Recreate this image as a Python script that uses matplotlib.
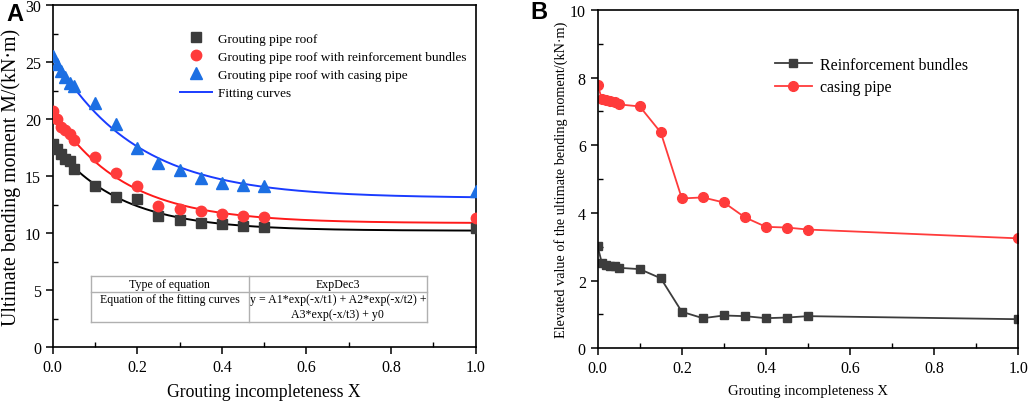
import numpy as np
import matplotlib
matplotlib.use("Agg")
import matplotlib.pyplot as plt
from matplotlib.ticker import MultipleLocator, FuncFormatter

plt.rcParams['font.family'] = ['Liberation Serif', 'DejaVu Serif']

# ---------------- data ----------------
x_vals = [0, 0.01, 0.02, 0.03, 0.04, 0.05, 0.1, 0.15, 0.2, 0.25, 0.3, 0.35, 0.4, 0.45, 0.5, 1.0]

roof = [17.8, 17.4, 16.9, 16.5, 16.3, 15.6, 14.15, 13.2, 13.0, 11.5, 11.1, 10.9, 10.75, 10.65, 10.5, 10.4]
roof_rb = [20.7, 20.0, 19.3, 19.0, 18.7, 18.2, 16.7, 15.3, 14.1, 12.4, 12.1, 11.9, 11.7, 11.5, 11.4, 11.3]
roof_cp = [25.5, 24.8, 24.2, 23.7, 23.2, 22.9, 21.4, 19.6, 17.5, 16.1, 15.5, 14.8, 14.4, 14.2, 14.1, 13.7]

elev_rb = [3.01, 2.52, 2.47, 2.44, 2.42, 2.38, 2.34, 2.07, 1.08, 0.89, 0.97, 0.95, 0.89, 0.91, 0.95, 0.86]
elev_cp = [7.78, 7.37, 7.33, 7.30, 7.27, 7.21, 7.15, 6.38, 4.43, 4.46, 4.31, 3.87, 3.59, 3.57, 3.51, 3.25]

labels_A = ["Grouting pipe roof",
            "Grouting pipe roof with reinforcement bundles",
            "Grouting pipe roof with casing pipe",
            "Fitting curves"]
labels_B = ["Reinforcement bundles", "casing pipe"]

# ---------------- fit (exponential decay, least squares) ----------------
def fit_expdec(x, y):
    x = np.asarray(x, float); y = np.asarray(y, float)
    best = None
    for t in np.linspace(0.02, 1.0, 981):
        M = np.column_stack([np.exp(-x / t), np.ones_like(x)])
        coef, res, *_ = np.linalg.lstsq(M, y, rcond=None)
        r = np.sum((M @ coef - y) ** 2)
        if best is None or r < best[0]:
            best = (r, t, coef)
    _, t, (A, y0) = best
    return lambda xx: A * np.exp(-xx / t) + y0

xx = np.linspace(0, 1, 300)

fig = plt.figure(figsize=(10.31, 4.02), dpi=100)
axA = fig.add_axes([0.0511, 0.1343, 0.4103, 0.8507])
axB = fig.add_axes([0.5797, 0.1311, 0.4081, 0.8415])

c_black = '#3c3c3c'
c_red = '#ff3b3b'
c_blue = '#1c6fe3'

# Panel A
axA.plot(x_vals, roof, 's', color=c_black, ms=6.5, label=labels_A[0], zorder=3)
axA.plot(x_vals, roof_rb, 'o', color=c_red, ms=7.5, label=labels_A[1], zorder=3)
axA.plot(x_vals, roof_cp, '^', color=c_blue, ms=8, label=labels_A[2], zorder=3)
axA.plot(xx, fit_expdec(x_vals, roof)(xx), '-', color='black', lw=1.4, zorder=2)
axA.plot(xx, fit_expdec(x_vals, roof_rb)(xx), '-', color='#ff1a1a', lw=1.4, zorder=2)
axA.plot(xx, fit_expdec(x_vals, roof_cp)(xx), '-', color='#1a3cff', lw=1.4, zorder=2, label=labels_A[3])

axA.set_xlim(0, 1)
axA.set_ylim(0, 30)
axA.xaxis.set_major_locator(MultipleLocator(0.2))
axA.xaxis.set_minor_locator(MultipleLocator(0.1))
axA.yaxis.set_major_locator(MultipleLocator(5))
axA.yaxis.set_minor_locator(MultipleLocator(2.5))
axA.tick_params(which='major', direction='out', length=5, width=1.1, labelsize=11.5)
axA.tick_params(which='minor', direction='in', length=3.5, width=1.0)
axA.xaxis.set_major_formatter(FuncFormatter(lambda v, p: f"{v:.1f}"))
axA.set_xlabel("Grouting incompleteness X", fontsize=12.7, labelpad=6)
axA.set_ylabel("Ultimate bending moment M/(kN·m)", fontsize=14.3, labelpad=3)
for s in axA.spines.values():
    s.set_linewidth(1.2)
axA.legend(loc='upper left', bbox_to_anchor=(0.301, 0.92), frameon=False, fontsize=9.5,
           handlelength=2.4, handletextpad=0.45, labelspacing=0.45, borderaxespad=0, borderpad=0)

# table in panel A
tx0, tx1, txm = 0.0905, 0.885, 0.4634
ty0, ty1, tym = 0.0731, 0.2076, 0.160
tcol = '#b0b0b0'
for (xa, ya, xb, yb) in [(tx0, ty0, tx1, ty0), (tx0, ty1, tx1, ty1), (tx0, ty0, tx0, ty1),
                         (tx1, ty0, tx1, ty1), (txm, ty0, txm, ty1), (tx0, tym, tx1, tym)]:
    axA.plot([xa, xb], [ya, yb], transform=axA.transAxes, color=tcol, lw=1.0, clip_on=False, zorder=4)
tfs = 8.6
axA.text((tx0 + txm) / 2, 0.183, "Type of equation", transform=axA.transAxes, ha='center', va='center', fontsize=tfs)
axA.text((txm + tx1) / 2, 0.183, "ExpDec3", transform=axA.transAxes, ha='center', va='center', fontsize=tfs)
axA.text((tx0 + txm) / 2, 0.140, "Equation of the fitting curves", transform=axA.transAxes, ha='center', va='center', fontsize=tfs)
axA.text((txm + tx1) / 2, 0.140, "y = A1*exp(-x/t1) + A2*exp(-x/t2) +", transform=axA.transAxes, ha='center', va='center', fontsize=tfs)
axA.text((txm + tx1) / 2, 0.097, "A3*exp(-x/t3) + y0", transform=axA.transAxes, ha='center', va='center', fontsize=tfs)

# Panel B
axB.plot(x_vals, elev_rb, '-s', color=c_black, ms=6, lw=1.3, label=labels_B[0])
axB.plot(x_vals, elev_cp, '-o', color=c_red, ms=7, lw=1.3, label=labels_B[1])
axB.set_xlim(0, 1)
axB.set_ylim(0, 10)
axB.xaxis.set_major_locator(MultipleLocator(0.2))
axB.xaxis.set_minor_locator(MultipleLocator(0.1))
axB.yaxis.set_major_locator(MultipleLocator(2))
axB.yaxis.set_minor_locator(MultipleLocator(1))
axB.tick_params(which='major', direction='out', length=5, width=1.1, labelsize=11.5)
axB.tick_params(which='minor', direction='in', length=3.5, width=1.0)
axB.xaxis.set_major_formatter(FuncFormatter(lambda v, p: f"{v:.1f}"))
axB.set_xlabel("Grouting incompleteness X", fontsize=10.5, labelpad=6)
axB.set_ylabel("Elevated value of the ultimate bending moment/(kN·m)", fontsize=10.3, labelpad=1)
for s in axB.spines.values():
    s.set_linewidth(1.2)
axB.legend(loc='upper left', bbox_to_anchor=(0.421, 0.861), frameon=False, fontsize=11.4,
           handlelength=2.35, handletextpad=0.5, labelspacing=0.4, borderaxespad=0, borderpad=0)

fig.text(0.006, 0.965, "A", fontsize=17, fontweight='bold', family='Liberation Sans', va='center')
fig.text(0.514, 0.968, "B", fontsize=17, fontweight='bold', family='Liberation Sans', va='center')

fig.savefig("out.png", dpi=100)
